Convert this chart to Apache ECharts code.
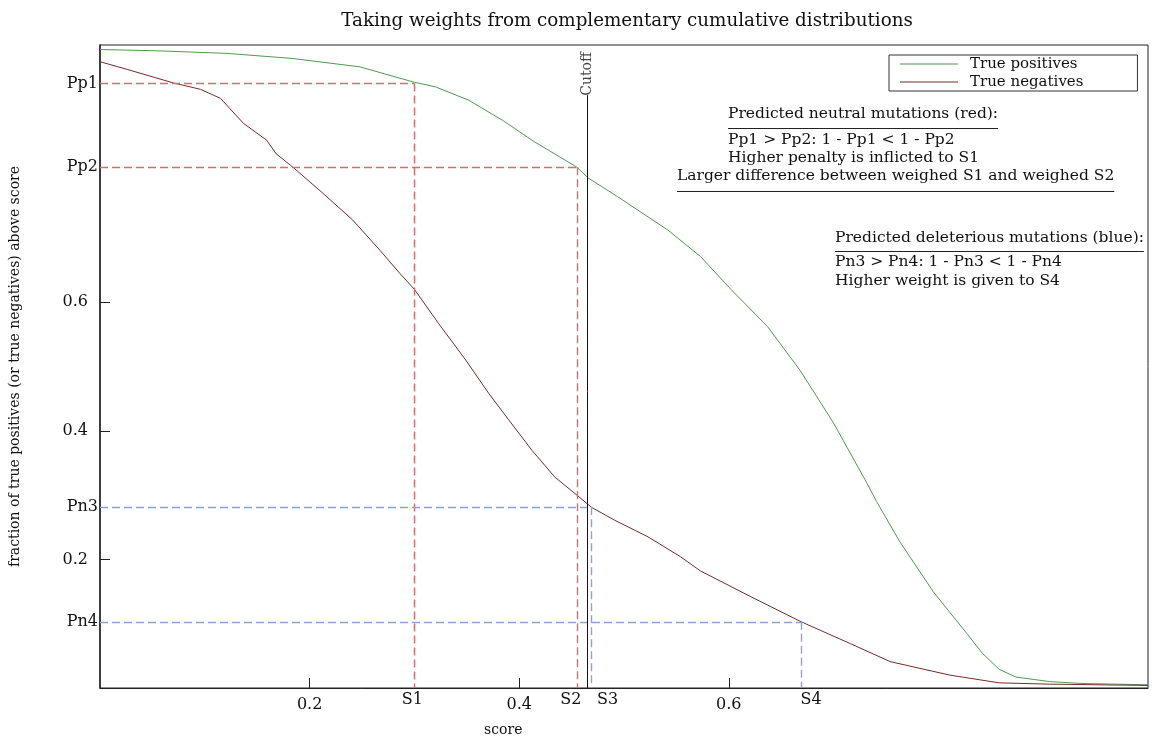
<!DOCTYPE html>
<html>
<head>
<meta charset="utf-8">
<script src="https://cdn.jsdelivr.net/npm/echarts@6/dist/echarts.min.js"></script>
<style>
  html, body { margin: 0; padding: 0; background: #fff; }
  #chart { width: 1154px; height: 747px; }
</style>
</head>
<body>
<div id="chart"></div>
<script>
// Complementary cumulative distributions: [score, fraction above score]
const truePositives = [
  [0.000, 0.993], [0.054, 0.991], [0.121, 0.987], [0.184, 0.979], [0.248, 0.966],
  [0.300, 0.942], [0.320, 0.935], [0.352, 0.914], [0.384, 0.883], [0.415, 0.849],
  [0.455, 0.810], [0.466, 0.793], [0.494, 0.764], [0.542, 0.712], [0.573, 0.671],
  [0.602, 0.620], [0.637, 0.562], [0.668, 0.494], [0.700, 0.412], [0.732, 0.318],
  [0.741, 0.290], [0.763, 0.228], [0.795, 0.150], [0.827, 0.085], [0.842, 0.054],
  [0.858, 0.029], [0.874, 0.017], [0.906, 0.010], [0.937, 0.007], [0.969, 0.006],
  [1.000, 0.005]
];
const trueNegatives = [
  [0.000, 0.974], [0.026, 0.962], [0.070, 0.941], [0.096, 0.931], [0.115, 0.917],
  [0.124, 0.901], [0.137, 0.878], [0.159, 0.852], [0.168, 0.831], [0.184, 0.810],
  [0.213, 0.769], [0.241, 0.728], [0.267, 0.681], [0.286, 0.645], [0.300, 0.620],
  [0.323, 0.567], [0.349, 0.510], [0.371, 0.458], [0.390, 0.417], [0.412, 0.370],
  [0.434, 0.328], [0.455, 0.300], [0.469, 0.281], [0.491, 0.261], [0.523, 0.235],
  [0.554, 0.204], [0.573, 0.182], [0.621, 0.142], [0.669, 0.103], [0.716, 0.069],
  [0.754, 0.041], [0.811, 0.020], [0.858, 0.008], [0.906, 0.006], [1.000, 0.004]
];

// Scores picked on the curves and the fractions read there
const scoreNames = ['S1', 'S2', 'S3', 'S4'];
const scoreValues = [0.300, 0.455, 0.469, 0.669];
const fractionNames = ['Pp1', 'Pp2', 'Pn3', 'Pn4'];
const fractionValues = [0.940, 0.810, 0.281, 0.103];
const cutoffScore = 0.465;
const cutoffLabel = 'Cutoff';

const axisTicks = [0.2, 0.4, 0.6];
const seriesNames = ['True positives', 'True negatives'];

const titleText = 'Taking weights from complementary cumulative distributions';
const xName = 'score';
const yName = 'fraction of true positives (or true negatives) above score';

const neutralNotes = [
  'Predicted neutral mutations (red):',
  'Pp1 > Pp2: 1 - Pp1 < 1 - Pp2',
  'Higher penalty is inflicted to S1',
  'Larger difference between weighed S1 and weighed S2'
];
const deleteriousNotes = [
  'Predicted deleterious mutations (blue):',
  'Pn3 > Pn4: 1 - Pn3 < 1 - Pn4',
  'Higher weight is given to S4'
];

// ---- styling ----
const FONT = 'DejaVu Serif';
const GREEN = '#4f9a4f';
const MAROON = '#7a2a2a';
const RED_DASH = '#dc6a6a';
const BLUE_DASH = '#8aa3d6';
// horizontal nudges for the score labels under the x axis (S2 / S3 sit close together)
const scoreLabelShift = [-2, -6, 16, 10];

function textWidth(str, size) {
  const ctx = document.createElement('canvas').getContext('2d');
  ctx.font = size + 'px "' + FONT + '"';
  return ctx.measureText(str).width;
}

// Dashed guides: horizontal from the y axis to the score, vertical down to the x axis
function guideLines(indices, color) {
  const style = { type: [8, 4], color: color, width: 1.4 };
  const labelBase = { show: true, color: '#111', fontFamily: FONT, fontSize: 16 };
  const lines = [];
  indices.forEach(function (i) {
    const s = scoreValues[i], p = fractionValues[i];
    lines.push([
      {
        coord: [0, p], lineStyle: style,
        label: Object.assign({}, labelBase, { position: 'start', formatter: fractionNames[i], distance: 2 })
      },
      { coord: [s, p], lineStyle: style }
    ]);
    lines.push([
      {
        coord: [s, p], lineStyle: style,
        label: Object.assign({}, labelBase, {
          position: 'end', formatter: scoreNames[i], distance: 4, offset: [scoreLabelShift[i], 0]
        })
      },
      { coord: [s, 0], lineStyle: style }
    ]);
  });
  return {
    silent: true,
    symbol: ['none', 'none'],
    animation: false,
    lineStyle: style,
    label: labelBase,
    emphasis: { disabled: true },
    data: lines
  };
}

const NOTE_SIZE = 15.5;
const graphics = [];
function addNote(str, x, y, underlineY) {
  graphics.push({
    type: 'text', left: x, top: y - 10, silent: true,
    style: { text: str, fill: '#111', font: NOTE_SIZE + 'px "' + FONT + '"' }
  });
  if (underlineY) {
    graphics.push({
      type: 'line', silent: true,
      shape: { x1: x, y1: underlineY, x2: x + textWidth(str, NOTE_SIZE), y2: underlineY },
      style: { stroke: '#222', lineWidth: 1 }
    });
  }
}
addNote(neutralNotes[0], 728, 116, 128.5);
addNote(neutralNotes[1], 728, 142);
addNote(neutralNotes[2], 728, 160);
addNote(neutralNotes[3], 677, 178, 191.5);
addNote(deleteriousNotes[0], 835, 239.5, 251.5);
addNote(deleteriousNotes[1], 835, 264);
addNote(deleteriousNotes[2], 835, 282.5);

graphics.push({
  type: 'text', left: 484, top: 723, silent: true,
  style: { text: xName, fill: '#111', font: '14px "' + FONT + '"' }
});

const chart = echarts.init(document.getElementById('chart'), null, { renderer: 'canvas' });

const option = {
  animation: false,
  backgroundColor: '#fff',
  title: {
    text: titleText,
    left: 622,
    textAlign: 'center',
    top: 7,
    textStyle: { fontFamily: FONT, fontSize: 18.3, fontWeight: 'normal', color: '#111' }
  },
  legend: {
    data: seriesNames,
    orient: 'vertical',
    left: 889,
    top: 55,
    icon: 'rect',
    itemWidth: 58,
    itemHeight: 1,
    itemGap: 2,
    padding: [1, 54, 1, 11],
    borderColor: '#333',
    borderWidth: 1,
    selectedMode: false,
    textStyle: { fontFamily: FONT, fontSize: 15, color: '#111', lineHeight: 16, padding: [0, 0, 0, 7] }
  },
  grid: {
    left: 96, right: 6, top: 45, bottom: 59,
    show: true, borderColor: '#222', borderWidth: 1, backgroundColor: 'transparent'
  },
  xAxis: {
    type: 'value', min: 0, max: 1,
    axisLine: { show: true, lineStyle: { color: '#222', width: 1 } },
    axisTick: { show: true, inside: true, length: 10, customValues: axisTicks, lineStyle: { color: '#222' } },
    axisLabel: {
      customValues: axisTicks, margin: 9, color: '#111', fontFamily: FONT, fontSize: 16,
      formatter: function (v) { return v.toFixed(1); }
    },
    splitLine: { show: false }
  },
  yAxis: {
    type: 'value', min: 0, max: 1,
    name: yName, nameLocation: 'middle', nameGap: 78,
    nameTextStyle: { fontFamily: FONT, fontSize: 14, color: '#111' },
    axisLine: { show: true, lineStyle: { color: '#222', width: 1.5 } },
    axisTick: { show: true, inside: true, length: 10, customValues: axisTicks, lineStyle: { color: '#222' } },
    axisLabel: {
      customValues: axisTicks, margin: 12, color: '#111', fontFamily: FONT, fontSize: 16,
      formatter: function (v) { return v.toFixed(1); }
    },
    splitLine: { show: false }
  },
  graphic: graphics,
  series: [
    {
      name: seriesNames[0], type: 'line', data: truePositives,
      symbol: 'none', smooth: false, color: GREEN,
      lineStyle: { color: GREEN, width: 1 },
      emphasis: { disabled: true },
      markLine: guideLines([0, 1], RED_DASH)
    },
    {
      name: seriesNames[1], type: 'line', data: trueNegatives,
      symbol: 'none', smooth: false, color: MAROON,
      lineStyle: { color: MAROON, width: 1 },
      emphasis: { disabled: true },
      markLine: guideLines([2, 3], BLUE_DASH)
    },
    {
      name: 'cutoff', type: 'line', data: [],
      markLine: {
        silent: true, symbol: ['none', 'none'], animation: false,
        lineStyle: { type: 'solid', color: '#111', width: 1 },
        label: { show: false },
        data: [[{ coord: [cutoffScore, 0] }, { coord: [cutoffScore, 0.922] }]]
      }
    },
    {
      name: 'cutoffLabel', type: 'scatter', symbolSize: 0, silent: true,
      data: [[cutoffScore, 0.955]],
      label: {
        show: true, position: 'inside', rotate: 90, formatter: cutoffLabel,
        fontFamily: FONT, fontSize: 14, color: '#111'
      }
    }
  ]
};
chart.setOption(option);
</script>
</body>
</html>
